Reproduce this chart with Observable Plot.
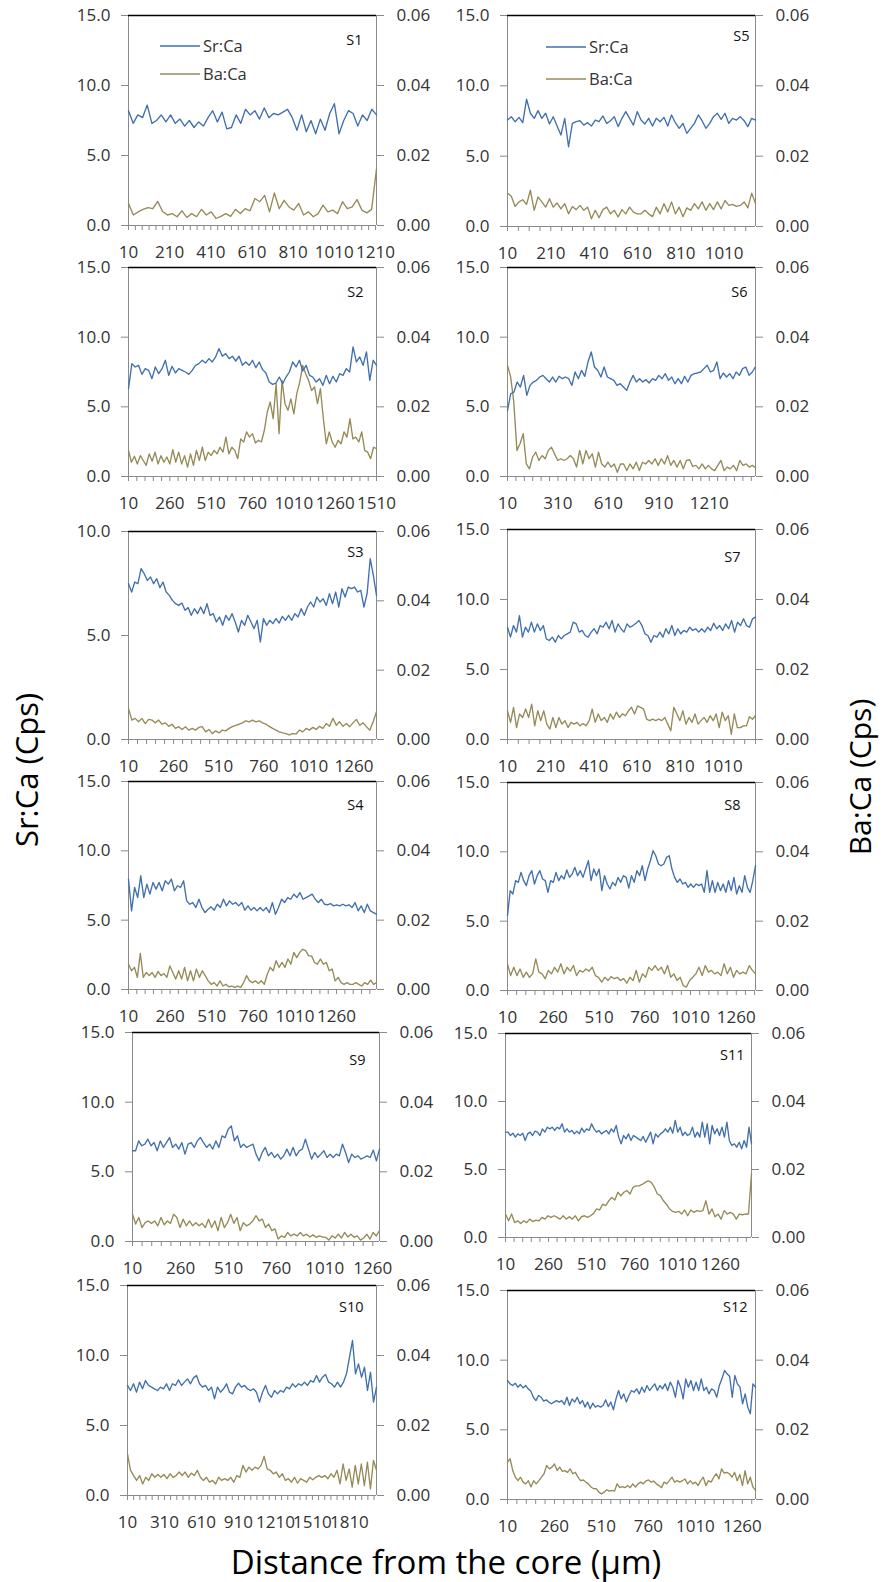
<!DOCTYPE html>
<html><head><meta charset="utf-8">
<script src="https://cdn.jsdelivr.net/npm/d3@7"></script>
<script src="https://cdn.jsdelivr.net/npm/@observablehq/plot@0.6"></script>
<style>
html,body{margin:0;padding:0;background:#fff;}
#root{position:relative;width:882px;height:1582px;overflow:hidden;font-family:"Open Sans",sans-serif;background:#fff;}
.panel{position:absolute;}
.title{position:absolute;line-height:1;color:#000;white-space:nowrap;transform:translate(-50%,-50%);}
.vtitle{transform:translate(-50%,-50%) rotate(-90deg);}
</style></head><body><div id="root"></div>
<script>
// ---------------- DATA ----------------
// Series names
const seriesNames = ["Sr:Ca", "Ba:Ca"];
// Panels (samples)
const panelIds = ["S1","S5","S2","S6","S3","S7","S4","S8","S9","S11","S10","S12"];
// Last distance on each x axis (µm), label step and number of minor ticks per label step
const xMaxUm = {S1:1215,S5:1155,S2:1510,S6:1485,S3:1385,S7:1160,S4:1500,S8:1365,S9:1295,S11:1440,S10:2030,S12:1330};
const xLabelStep = {S1:200,S5:200,S2:250,S6:300,S3:250,S7:200,S4:250,S8:250,S9:250,S11:250,S10:300,S12:250};
const xTicksPerLabel = {S1:6,S5:4,S2:5,S6:6,S3:5,S7:4,S4:5,S8:5,S9:5,S11:5,S10:6,S12:5};
// Left axis maximum (Sr:Ca) and tick values
const srMax = {S1:15,S5:15,S2:15,S6:15,S3:10,S7:15,S4:15,S8:15,S9:15,S11:15,S10:15,S12:15};
const srTicks15 = [0,5,10,15];
const srTicks10 = [0,5,10];
const baMax = 0.06;
const baTicks = [0,0.02,0.04,0.06];

// Sr:Ca (Cps)
const srS1 = [8.2,7.3,7.9,7.7,8.6,7.3,7.5,7.9,7.4,7.9,7.3,7.6,7.1,7.5,7.0,7.4,7.1,7.7,8.2,7.4,8.1,6.9,7.0,7.9,7.3,8.3,7.9,8.2,7.6,8.4,7.7,8.0,7.9,8.1,8.3,7.7,6.8,7.9,6.7,7.5,6.55,7.6,6.8,8.0,8.7,6.55,7.5,8.2,8.0,7.1,7.9,7.5,8.3,7.9];
const srS5 = [7.57,7.8,7.45,7.76,7.38,9.05,8.05,7.69,8.24,7.69,8.05,7.29,7.8,7.14,6.5,7.69,5.67,7.33,7.45,7.52,7.21,7.38,7.14,7.57,7.45,7.86,7.33,7.52,7.81,7.1,7.69,8.17,7.69,7.21,8.17,7.57,7.29,7.69,7.14,7.69,7.45,7.76,7.14,7.93,7.38,6.98,7.33,6.62,6.98,7.33,7.93,7.52,6.98,7.33,7.81,8.05,7.62,8.05,7.33,7.69,7.57,7.81,7.52,7.1,7.69,7.57];
const srS2 = [6.3,8.1,7.86,7.98,7.33,7.74,7.62,7.02,7.86,7.38,7.74,8.34,7.26,7.91,7.43,7.74,7.62,7.5,7.33,7.62,7.98,8.1,8.34,8.15,8.46,8.22,8.58,9.18,8.63,8.82,8.46,8.63,8.29,8.63,7.98,8.22,7.98,8.34,7.81,8.22,7.67,7.43,6.78,6.61,6.71,7.14,6.66,7.14,7.5,8.22,7.86,8.34,7.57,7.98,7.26,7.14,6.78,7.02,6.54,7.26,6.66,7.19,6.78,7.38,7.26,7.74,7.5,9.3,8.22,8.58,7.98,8.94,6.9,8.34,7.98];
const srS6 = [4.74,5.94,6.06,6.78,6.42,7.26,5.82,6.54,6.78,6.9,7.14,7.26,7.02,6.78,7.14,6.78,7.19,7.02,7.14,7.02,6.54,7.5,7.02,7.62,7.19,8.22,8.94,7.86,7.62,7.14,7.86,7.14,7.02,6.9,6.54,6.66,6.42,6.18,6.78,7.26,6.78,7.02,6.78,6.95,6.71,7.02,6.9,7.26,7.02,7.38,6.9,7.14,6.66,7.02,6.66,7.19,6.78,7.26,7.38,7.43,7.5,7.74,7.98,7.5,7.62,8.22,7.02,7.43,7.14,7.38,7.02,7.5,7.26,7.74,7.86,7.26,7.5,7.86];
const srS3 = [7.49,7.09,7.57,7.49,8.21,7.97,7.65,7.81,7.49,7.73,7.3,7.57,7.09,6.93,6.69,6.53,6.45,6.56,6.21,6.34,5.97,6.29,6.05,6.37,6.05,6.53,5.97,6.05,5.65,5.89,5.49,5.97,5.73,6.05,5.65,5.17,5.73,5.49,5.97,5.65,5.33,5.73,4.69,5.81,5.49,5.73,5.57,5.81,5.6,5.92,5.73,5.97,5.73,6.05,5.89,6.29,5.97,6.37,6.61,6.37,6.85,6.61,6.77,6.45,7.01,6.53,7.09,6.37,7.25,6.85,7.33,7.25,7.33,7.09,7.17,6.37,7.01,8.69,7.89,6.93];
const srS7 = [8.02,7.31,8.14,7.67,8.84,7.31,8.02,7.67,8.38,7.67,8.26,7.79,8.14,7.19,7.07,7.31,6.95,7.43,7.19,7.43,7.55,7.67,8.38,8.26,7.67,7.79,7.43,7.31,7.67,7.91,7.55,8.14,8.02,8.38,7.91,8.5,7.67,8.26,7.91,7.67,8.26,8.02,8.14,8.31,8.5,8.14,7.55,7.43,6.95,7.43,7.31,7.67,7.31,7.91,7.55,8.14,7.43,7.91,7.55,7.79,7.67,8.02,7.79,7.91,7.67,7.91,7.67,8.02,7.79,8.31,7.91,8.14,7.79,8.26,7.91,8.5,7.67,8.38,8.14,8.62,8.14,8.02,8.62,8.74];
const srS4 = [7.96,5.67,7.36,6.63,8.2,6.63,7.6,6.88,7.72,7.24,7.72,7.12,7.84,7.6,7.96,7.12,7.48,7.36,7.84,6.39,6.15,6.27,5.91,6.51,5.91,5.55,5.79,5.96,5.72,6.15,5.91,6.51,6.03,6.39,6.15,6.27,6.03,6.27,5.72,6.03,5.72,5.91,5.67,5.91,5.67,5.91,5.55,6.27,5.43,5.91,6.51,6.27,6.63,6.51,6.88,6.63,6.99,6.51,6.63,6.75,6.88,6.51,6.27,6.51,6.15,6.11,6.2,6.03,6.11,6.03,6.15,6.03,6.11,5.91,6.27,5.67,6.03,5.55,6.15,5.67,5.55,5.43];
const srS8 = [5.4,7.2,6.96,7.92,7.8,8.52,7.92,7.56,8.28,8.64,7.68,8.28,8.64,8.04,7.92,7.08,7.92,7.8,8.52,7.92,8.28,8.04,8.69,8.16,8.4,8.88,8.28,8.64,8.16,8.76,9.36,7.92,8.76,8.28,8.76,7.2,8.28,7.68,7.32,7.8,7.56,8.16,7.8,8.28,8.16,7.39,8.28,7.8,8.64,8.28,9.0,7.92,8.76,9.36,10.08,9.72,9.12,9.0,9.12,9.6,9.72,8.76,8.16,7.8,8.04,7.68,7.8,7.44,7.68,7.44,7.68,7.56,7.68,7.08,8.64,7.08,7.92,7.08,7.8,7.2,7.68,7.08,7.92,7.2,8.16,6.96,7.56,7.08,8.28,7.44,7.08,7.92,9.0];
const srS9 = [6.51,6.51,7.22,6.87,6.99,7.34,6.87,7.1,6.51,7.22,6.75,7.1,7.46,6.75,6.99,6.63,7.1,6.27,6.99,7.1,6.75,7.22,7.46,7.1,6.75,6.99,6.63,7.22,6.75,7.58,7.46,8.06,8.3,7.22,7.58,6.75,6.99,6.75,6.87,6.99,6.27,5.79,6.39,6.75,6.15,6.39,6.03,6.27,5.91,6.15,6.63,6.15,6.75,6.15,6.51,6.63,7.34,6.63,5.91,6.39,6.03,6.27,6.51,6.03,6.27,6.03,6.27,6.15,6.99,6.39,5.67,6.27,6.03,6.15,5.91,6.03,6.15,6.03,6.56,5.79,6.63];
const srS11 = [7.75,7.75,7.5,7.67,7.38,7.62,7.5,7.67,7.13,7.62,7.75,7.5,7.82,7.75,7.5,7.99,7.75,8.11,7.99,8.11,7.87,8.11,7.99,8.36,7.75,7.99,7.75,7.87,7.62,7.82,7.62,8.05,7.75,7.99,7.87,8.36,7.99,7.75,7.87,7.62,7.75,7.87,7.62,7.99,7.75,8.24,7.38,6.89,7.5,7.25,7.62,7.13,7.5,7.38,7.25,7.13,7.43,7.0,7.38,7.75,6.89,7.62,7.38,7.62,7.75,7.99,7.75,8.11,7.67,8.61,7.75,8.11,7.5,7.75,7.5,7.62,8.11,7.38,7.75,7.38,8.48,7.38,8.36,6.89,8.24,7.62,7.99,7.5,8.11,7.38,8.48,7.13,6.76,6.89,6.64,7.0,6.52,7.13,6.64,8.11,6.89];
const srS10 = [7.86,7.5,7.98,7.38,8.1,7.62,8.21,7.86,7.74,7.62,7.5,7.74,7.62,7.98,7.5,7.98,7.86,8.26,7.86,8.1,8.33,7.98,8.4,8.57,7.98,7.74,7.86,7.5,7.74,6.9,7.74,7.38,7.62,7.98,7.38,7.26,7.74,8.02,7.74,7.86,7.62,7.5,7.62,7.38,6.67,7.38,7.86,7.26,7.02,7.5,7.26,7.5,7.38,7.74,7.62,7.98,7.74,7.98,7.86,8.1,7.86,8.21,8.1,8.57,8.1,8.45,8.64,8.1,7.98,7.74,8.1,7.74,8.1,8.69,9.88,11.07,8.69,9.4,8.45,9.17,7.5,8.81,6.67,7.74];
const srS12 = [8.54,8.3,8.18,8.35,8.06,8.25,8.01,8.18,7.94,7.78,7.34,7.1,7.46,7.34,7.06,7.15,6.99,6.87,6.99,7.1,6.99,7.1,6.82,7.34,6.75,7.22,6.99,7.34,6.87,7.1,6.63,6.99,6.51,6.91,6.63,6.75,6.63,6.75,7.15,6.67,6.99,6.44,7.22,7.82,7.22,7.58,6.99,7.46,7.82,7.7,7.94,7.58,8.06,7.7,8.18,7.82,8.06,8.3,7.82,8.18,7.94,8.3,7.82,8.42,8.06,7.34,8.54,8.06,7.22,8.66,8.06,8.54,7.82,8.42,7.82,8.66,7.82,8.06,7.58,7.94,7.82,7.34,8.18,8.66,9.26,9.02,8.83,7.34,8.9,8.3,8.06,6.87,7.58,6.63,6.15,8.3,8.06];

// Ba:Ca (Cps), in units of 10^-3
const baS1 = [6.3,3.0,3.9,4.6,5.1,4.8,6.9,4.0,3.0,3.4,2.5,4.2,2.3,3.4,2.5,4.6,3.0,3.9,2.0,2.6,3.4,2.6,4.6,3.4,4.8,4.2,7.7,6.8,8.6,3.9,9.3,4.8,7.2,5.3,4.4,6.3,3.0,3.9,2.5,3.4,5.8,3.9,4.4,3.4,6.8,4.8,5.3,7.4,4.4,3.6,4.6,16.2];
const baS5 = [9.5,8.6,5.7,7.0,7.6,6.3,10.3,4.6,8.4,7.0,5.5,7.9,5.5,6.7,5.0,6.5,3.6,5.7,4.8,6.0,4.6,5.5,2.2,4.6,2.5,4.8,5.5,3.6,4.6,2.7,4.8,3.6,5.5,4.1,3.6,3.6,4.6,3.6,2.8,5.5,3.6,6.5,4.1,7.0,3.6,5.5,2.8,5.3,4.6,6.5,5.0,7.0,4.6,6.5,4.8,7.0,5.0,7.4,6.0,6.3,5.7,6.0,7.0,5.3,9.5,6.5];
const baS2 = [7.5,4.1,5.8,3.6,6.0,4.6,3.2,6.5,4.4,7.0,3.6,6.0,4.1,5.6,3.6,7.7,4.1,7.0,3.6,6.0,2.7,6.5,3.2,7.5,4.6,8.4,4.6,7.0,6.0,7.5,6.5,8.4,7.0,11.3,6.5,8.4,7.5,5.1,10.8,9.9,12.8,11.3,12.3,9.6,10.4,9.9,13.2,18.5,21.4,16.6,26.6,12.3,27.6,20.9,19.0,22.3,18.0,23.8,27.1,31.9,29.5,27.6,24.7,25.7,20.9,25.2,16.6,9.4,12.8,9.9,8.4,10.4,9.4,12.8,11.3,16.6,10.8,11.3,9.9,12.8,7.5,7.0,5.1,8.4,8.0];
const baS6 = [31.9,28.6,21.4,7.5,9.4,12.3,3.6,2.2,5.6,7.0,4.6,6.0,5.1,7.5,8.4,6.5,4.6,5.1,4.6,5.1,6.0,5.1,2.7,7.5,3.6,7.5,5.1,6.5,2.7,7.0,3.6,2.7,4.1,2.7,3.6,1.2,3.6,3.6,1.7,3.6,2.2,4.1,1.7,4.1,3.6,4.6,3.6,5.1,3.2,5.1,3.6,6.0,3.2,4.6,2.7,4.6,2.2,4.6,4.8,2.9,3.2,2.2,3.6,2.2,3.2,2.2,1.7,3.2,4.6,1.7,2.7,2.2,3.2,1.7,4.6,3.2,3.6,2.7,3.2,2.5];
const baS3 = [8.9,5.6,6.1,5.1,6.1,4.6,5.8,5.6,4.8,5.6,4.4,4.8,3.8,4.4,3.2,3.7,2.9,3.7,2.7,3.2,2.7,3.5,3.7,2.2,2.9,1.7,2.5,1.9,2.7,2.5,3.2,3.7,4.1,4.4,4.8,5.4,5.1,5.6,5.1,5.4,4.8,4.4,3.8,3.2,2.7,2.2,1.9,1.7,1.3,1.7,1.6,2.7,2.2,3.2,2.7,3.5,2.9,3.8,3.2,4.6,3.8,6.1,4.1,5.1,3.8,4.6,3.7,4.8,5.8,4.1,4.8,3.7,2.7,5.1,8.0];
const baS7 = [8.2,4.9,9.2,3.4,7.3,6.3,8.7,6.3,10.1,3.9,8.2,5.4,8.2,4.4,3.0,6.3,3.4,6.3,4.4,5.4,3.4,4.9,4.4,4.9,3.9,4.6,3.9,5.4,8.7,4.9,7.3,5.4,6.3,4.9,7.3,5.8,7.8,6.3,7.3,6.8,8.2,9.2,7.3,9.6,9.2,8.7,5.8,5.4,5.8,5.4,5.8,5.4,6.3,4.4,2.5,9.2,7.3,5.4,8.2,4.4,6.3,4.9,7.3,4.4,5.4,6.3,4.9,6.8,5.4,7.3,3.4,7.8,5.4,6.8,1.5,7.3,3.4,3.4,3.9,3.9,6.5,5.8,6.8];
const baS4 = [7.3,5.4,6.4,3.5,10.4,3.5,4.9,4.0,4.9,3.5,5.2,4.0,4.6,3.5,6.8,4.9,3.0,5.4,3.0,6.4,2.5,5.4,2.5,5.9,3.5,5.4,4.0,2.5,1.5,2.0,1.0,2.5,1.0,1.5,0.8,1.0,0.6,1.0,0.6,2.0,4.0,2.5,2.0,2.5,1.7,2.5,1.5,4.4,6.4,5.4,8.3,6.4,7.8,6.4,8.8,7.3,10.7,9.2,10.7,11.6,11.2,9.7,9.7,7.8,7.3,8.8,7.3,7.8,5.4,5.9,2.5,3.5,2.0,1.5,2.0,1.5,1.5,2.0,1.5,1.0,2.0,1.5,2.7,1.5,2.0];
const baS8 = [7.7,4.3,6.7,4.3,6.2,3.8,5.3,3.8,4.8,9.1,5.3,4.8,3.4,5.8,4.8,6.7,5.3,7.7,4.8,6.7,5.6,7.2,4.3,5.8,5.3,6.2,5.6,6.7,4.3,3.8,2.4,3.8,2.9,4.0,3.4,3.8,2.9,3.4,2.1,3.8,2.9,5.8,2.4,4.8,3.8,6.7,5.8,7.2,5.8,6.7,4.8,7.2,3.8,4.8,2.9,3.8,1.4,1.0,2.9,3.8,4.8,6.7,4.3,7.2,5.3,5.8,4.8,5.3,4.3,7.7,4.8,6.7,3.8,5.8,4.8,5.3,4.8,7.2,5.8,4.8];
const baS9 = [7.8,5.0,6.9,4.0,5.4,5.9,5.2,5.9,4.5,6.9,4.8,5.9,5.2,7.8,6.9,4.0,6.4,4.5,5.9,4.5,5.4,4.5,5.2,4.0,6.4,4.0,5.9,3.1,6.9,4.0,5.4,7.8,5.2,6.9,3.1,5.4,4.5,5.0,5.9,7.4,5.9,6.4,4.0,5.0,3.1,3.6,0.7,1.6,1.2,2.6,1.6,2.1,1.6,2.6,1.6,2.1,1.3,1.9,1.2,1.6,1.3,1.2,0.4,1.6,1.0,2.1,1.0,2.6,1.3,2.1,1.2,1.6,0.4,1.0,2.1,0.7,2.6,1.6,3.1];
const baS11 = [6.9,4.9,6.9,4.4,4.9,4.1,4.9,4.4,5.4,4.7,5.1,4.9,5.9,5.4,6.4,5.9,6.4,5.9,5.4,6.4,5.4,6.1,5.4,6.4,4.9,6.1,6.4,5.9,6.4,7.1,8.4,8.1,9.8,9.4,10.8,11.8,11.0,13.3,12.3,13.3,13.8,12.8,14.8,15.2,15.2,15.6,16.2,16.7,16.2,14.8,12.8,12.3,10.8,9.8,8.4,7.7,7.4,7.7,6.9,8.1,6.4,8.1,7.4,7.9,7.7,7.9,10.8,6.9,8.4,6.1,6.9,5.4,7.9,6.9,7.4,6.9,5.4,6.9,6.7,6.9,6.9,18.7];
const baS10 = [11.9,7.2,5.7,4.3,5.7,3.3,5.2,4.3,6.2,5.2,6.0,5.2,6.0,4.8,6.2,5.2,5.7,6.7,5.7,6.7,5.2,6.4,5.7,7.2,5.2,4.3,5.2,3.8,4.3,3.3,5.2,4.3,4.8,4.3,5.2,3.8,5.7,5.2,8.6,6.7,8.1,7.2,8.1,7.6,8.6,11.2,7.6,7.2,6.2,6.7,5.2,6.2,4.3,4.8,3.8,5.2,3.5,4.8,4.3,3.8,5.2,4.5,5.2,5.7,5.2,5.7,4.8,6.2,5.2,7.2,3.3,9.0,4.3,7.6,2.4,8.6,3.3,9.0,2.8,9.5,1.9,10.0,7.2];
const baS12 = [10.7,11.7,8.3,6.4,5.4,6.4,5.0,4.5,5.4,3.6,5.4,4.5,5.4,6.4,7.4,9.8,8.8,9.3,10.2,8.3,9.3,8.1,8.3,7.8,8.8,7.4,7.8,6.4,5.4,5.6,5.0,4.5,3.6,3.1,3.1,2.1,1.6,2.1,2.8,2.4,2.6,2.4,4.5,3.4,3.7,3.4,4.0,3.4,4.5,3.6,4.5,5.0,4.5,5.3,5.6,5.0,5.3,4.5,4.0,3.4,5.0,4.5,5.4,6.4,5.0,5.4,5.0,5.4,5.9,4.5,5.4,4.5,5.0,4.0,5.4,6.4,4.0,5.4,5.0,6.4,7.4,5.9,8.8,7.6,7.8,7.4,6.4,7.8,5.4,7.2,4.0,8.3,4.5,6.4,3.6,2.6];

const srSeries = {S1:srS1,S5:srS5,S2:srS2,S6:srS6,S3:srS3,S7:srS7,S4:srS4,S8:srS8,S9:srS9,S11:srS11,S10:srS10,S12:srS12};
const baSeries = {S1:baS1,S5:baS5,S2:baS2,S6:baS6,S3:baS3,S7:baS7,S4:baS4,S8:baS8,S9:baS9,S11:baS11,S10:baS10,S12:baS12};

// ---------------- LAYOUT / STYLE ----------------
// plot-area boxes in page pixels: [left, top, right, bottom]
const layout = {
  S1:[128,15,376,225], S5:[507,15,755,226],
  S2:[128,267,376,476], S6:[507,267,755,476],
  S3:[128,531,376,739], S7:[507,529,755,739],
  S4:[128,781,376,989], S8:[507,782,755,990],
  S9:[132,1032,379,1241], S11:[505,1033,751,1237],
  S10:[127,1285,376,1495], S12:[507,1290,755,1499]
};
// sample label offsets from top-right corner [dx, dy]
const labelOffset = {S1:[-14,25],S5:[-6,21],S2:[-13,25],S6:[-8,25],S3:[-13,21],S7:[-15,28],S4:[-13,24],S8:[-15,23],S9:[-14,28],S11:[-7,22],S10:[-13,22],S12:[-8,17]};
const SR_COLOR = "#4170ad";
const BA_COLOR = "#958b58";
const AXIS_COLOR = "#8a8a8a";
const TEXT_COLOR = "#333333";

const root = document.getElementById("root");
const ML = 70, MR = 70, MT = 14, MB = 46;

for (const id of panelIds) {
  const [l, t, r, b] = layout[id];
  const xMax = xMaxUm[id];
  const yMax = srMax[id];
  const k = yMax / baMax;
  const sr = srSeries[id], ba = baSeries[id];
  const srData = sr.map((v, i) => ({x: 10 + i * (xMax - 10) / (sr.length - 1), v}));
  const baData = ba.map((v, i) => ({x: 10 + i * (xMax - 10) / (ba.length - 1), v: v / 1000}));
  const step = xLabelStep[id];
  const labelTicks = d3.range(10, xMax + 1, step);
  const minorTicks = d3.range(10, xMax + 0.5, step / xTicksPerLabel[id]);
  const leftTicks = yMax === 10 ? srTicks10 : srTicks15;
  const [ldx, ldy] = labelOffset[id];

  const chart = Plot.plot({
    width: (r - l) + ML + MR,
    height: (b - t) + MT + MB,
    marginLeft: ML, marginRight: MR, marginTop: MT, marginBottom: MB,
    style: {background: "transparent", fontFamily: "Open Sans", fontSize: "17px", overflow: "visible"},
    x: {domain: [10, xMax]},
    y: {domain: [0, yMax]},
    marks: [
      Plot.axisY(leftTicks, {anchor: "left", label: null, tickSize: 7, tickPadding: 11,
        tickFormat: d => d.toFixed(1), stroke: AXIS_COLOR, fill: TEXT_COLOR}),
      Plot.axisY(baTicks.map(d => d * k), {anchor: "right", label: null, tickSize: 7, tickPadding: 13,
        tickFormat: d => (d / k).toFixed(2), stroke: AXIS_COLOR, fill: TEXT_COLOR}),
      Plot.axisX(minorTicks, {anchor: "bottom", label: null, tickSize: 5, tickFormat: () => "", stroke: AXIS_COLOR}),
      Plot.axisX(labelTicks, {anchor: "bottom", label: null, tickSize: 0, tickPadding: 20,
        tickFormat: d => String(Math.round(d)), fill: TEXT_COLOR}),
      Plot.ruleX([10, xMax], {stroke: AXIS_COLOR, strokeWidth: 1}),
      Plot.ruleY([0], {stroke: AXIS_COLOR, strokeWidth: 1}),
      Plot.ruleY([yMax], {stroke: "#000", strokeWidth: 1.6}),
      Plot.line(baData, {x: "x", y: d => d.v * k, stroke: BA_COLOR, strokeWidth: 1.35}),
      Plot.line(srData, {x: "x", y: "v", stroke: SR_COLOR, strokeWidth: 1.35}),
      Plot.text([id], {frameAnchor: "top-right", lineAnchor: "middle", textAnchor: "end",
        dx: ldx, dy: ldy, fontSize: 14.5, fill: "#111"})
    ]
  });
  const div = document.createElement("div");
  div.className = "panel";
  div.style.left = (l - ML) + "px";
  div.style.top = (t - MT) + "px";
  div.style.width = ((r - l) + ML + MR) + "px";
  div.appendChild(chart);
  root.appendChild(div);
}

// Legends (S1 and S5)
const legendPos = [[160, 46, 74], [546, 47, 79]];
for (const [lx, y1, y2] of legendPos) {
  const svg = d3.create("svg").attr("width", 110).attr("height", y2 - y1 + 24)
    .style("position", "absolute").style("left", lx + "px").style("top", (y1 - 12) + "px")
    .style("overflow", "visible");
  [[seriesNames[0], SR_COLOR, 12], [seriesNames[1], BA_COLOR, 12 + (y2 - y1)]].forEach(([name, c, yy]) => {
    svg.append("line").attr("x1", 0).attr("x2", 40).attr("y1", yy).attr("y2", yy)
      .attr("stroke", c).attr("stroke-width", 1.5);
    svg.append("text").attr("x", 43).attr("y", yy).attr("dy", "0.35em")
      .attr("font-family", "Open Sans").attr("font-size", 16.5).attr("fill", "#333").text(name);
  });
  root.appendChild(svg.node());
}

// Axis titles
function addTitle(text, x, y, size, vertical) {
  const d = document.createElement("div");
  d.className = "title" + (vertical ? " vtitle" : "");
  d.style.left = x + "px";
  d.style.top = y + "px";
  d.style.fontSize = size + "px";
  d.textContent = text;
  root.appendChild(d);
}
addTitle("Sr:Ca (Cps)", 26, 770, 31, true);
addTitle("Ba:Ca (Cps)", 860, 777, 30, true);
addTitle("Distance from the core (μm)", 446, 1561, 33, false);
</script></body></html>
